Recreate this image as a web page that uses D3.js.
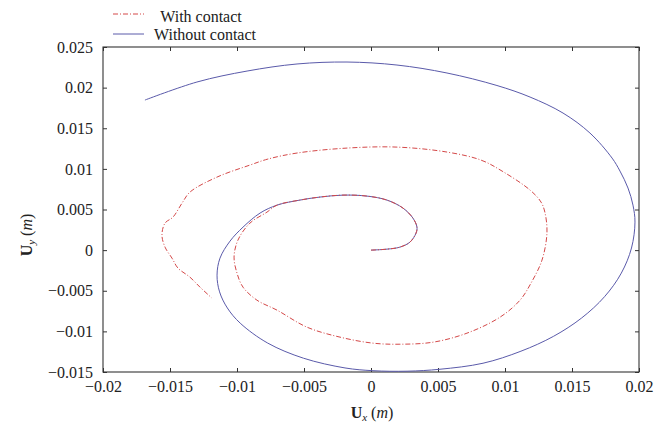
<!DOCTYPE html>
<html><head><meta charset="utf-8">
<script src="https://cdn.jsdelivr.net/npm/d3@7"></script>
<style>
html,body{margin:0;padding:0;background:#fff;}
svg{display:block;}
svg text{font-family:"Liberation Serif","DejaVu Serif",serif !important;fill:#222;}
</style></head>
<body>
<svg id="chart" width="655" height="428"></svg>
<script>
// ---- data ----
const xTicks = [-0.02, -0.015, -0.01, -0.005, 0, 0.005, 0.01, 0.015, 0.02];
const xTickLabels = ["\u22120.02", "\u22120.015", "\u22120.01", "\u22120.005", "0", "0.005", "0.01", "0.015", "0.02"];
const yTicks = [-0.015, -0.01, -0.005, 0, 0.005, 0.01, 0.015, 0.02, 0.025];
const yTickLabels = ["\u22120.015", "\u22120.01", "\u22120.005", "0", "0.005", "0.01", "0.015", "0.02", "0.025"];
const seriesNames = ["With contact", "Without contact"];

// Without contact (blue, solid)
const withoutX = [0, 0.00119, 0.00216, 0.00291, 0.00336, 0.00343, 0.00313, 0.00239, 0.00119, -0.0003, -0.00209, -0.00381, -0.0053, -0.00701, -0.00828, -0.00955, -0.01052, -0.01127, -0.01149, -0.0113, -0.01072, -0.00976, -0.00771, -0.00504, -0.00194, 0.00015, 0.00269, 0.00515, 0.00836, 0.01119, 0.01363, 0.01572, 0.01743, 0.01868, 0.01944, 0.0197, 0.01955, 0.01918, 0.01858, 0.01799, 0.01634, 0.01433, 0.01187, 0.0094, 0.00567, 0.00194, -0.00179, -0.00552, -0.00925, -0.01299, -0.01687];
const withoutY = [0, 0.00012, 0.00037, 0.00099, 0.00209, 0.00283, 0.00394, 0.00517, 0.00616, 0.00665, 0.00677, 0.00653, 0.00616, 0.00554, 0.00456, 0.00283, 0.00111, -0.00099, -0.00308, -0.00514, -0.00712, -0.00899, -0.01144, -0.0133, -0.0145, -0.01484, -0.0149, -0.01466, -0.01392, -0.01244, -0.0106, -0.00835, -0.00573, -0.00283, 0.00026, 0.00345, 0.00554, 0.00764, 0.00973, 0.01133, 0.01441, 0.01687, 0.01884, 0.02026, 0.0218, 0.02278, 0.02315, 0.02291, 0.02204, 0.02069, 0.01847];

// With contact (red, dash-dot)
const withX = [0, 0.00119, 0.00216, 0.00291, 0.00336, 0.00343, 0.00313, 0.00239, 0.00119, -0.0003, -0.00209, -0.00381, -0.0053, -0.00701, -0.00776, -0.00903, -0.00993, -0.01022, -0.01, -0.00955, -0.00851, -0.00701, -0.00478, -0.00231, 0.00015, 0.00216, 0.00463, 0.00716, 0.00963, 0.01112, 0.01194, 0.01276, 0.01313, 0.01299, 0.01269, 0.01187, 0.00978, 0.00821, 0.00567, 0.00194, -0.00179, -0.00552, -0.00769, -0.00903, -0.01149, -0.01351, -0.0141, -0.01478, -0.01537, -0.0156, -0.01537, -0.01485, -0.0144, -0.01351, -0.01276, -0.01187];
const withY = [0, 0.00012, 0.00037, 0.00099, 0.00209, 0.00283, 0.00394, 0.00517, 0.00616, 0.00665, 0.00677, 0.00653, 0.00616, 0.00554, 0.00468, 0.00333, 0.00123, -0.00086, -0.00283, -0.00456, -0.00616, -0.00739, -0.00948, -0.01071, -0.01145, -0.01158, -0.01133, -0.01022, -0.00825, -0.00616, -0.00406, -0.00123, 0.00209, 0.00456, 0.00591, 0.00739, 0.00973, 0.01108, 0.01207, 0.01268, 0.01256, 0.01195, 0.01121, 0.01047, 0.00899, 0.00714, 0.00579, 0.00406, 0.00333, 0.00185, 0.00037, -0.00099, -0.00222, -0.00333, -0.00456, -0.00591];

// ---- layout ----
const FONT = '"Liberation Serif","DejaVu Serif",serif';
const svg = d3.select("#chart");
const L = 103, R = 639, T = 47, B = 372;
const x = d3.scaleLinear().domain([-0.02, 0.02]).range([L, R]);
const y = d3.scaleLinear().domain([-0.015, 0.025]).range([B, T]);

const fmtX = v => xTickLabels[xTicks.indexOf(v)];
const fmtY = v => yTickLabels[yTicks.indexOf(v)];
const axisColor = "#333";

function styleAxis(g) {
  g.attr("font-family", FONT).attr("font-size", 16);
  g.select(".domain").remove();
  g.selectAll(".tick line").attr("stroke", axisColor).attr("stroke-width", 1);
  g.selectAll(".tick text").attr("font-family", FONT).style("font-size", "16px").attr("fill", "#222");
}

svg.append("g").attr("transform", `translate(0,${B})`)
  .call(d3.axisBottom(x).tickValues(xTicks).tickFormat(fmtX).tickSize(-4).tickPadding(9))
  .call(styleAxis);
svg.append("g").attr("transform", `translate(0,${T})`)
  .call(d3.axisTop(x).tickValues(xTicks).tickFormat("").tickSize(-4))
  .call(styleAxis);
svg.append("g").attr("transform", `translate(${L},0)`)
  .call(d3.axisLeft(y).tickValues(yTicks).tickFormat(fmtY).tickSize(-4).tickPadding(10))
  .call(styleAxis);
svg.append("g").attr("transform", `translate(${R},0)`)
  .call(d3.axisRight(y).tickValues(yTicks).tickFormat("").tickSize(-4))
  .call(styleAxis);

svg.append("rect").attr("x", L).attr("y", T).attr("width", R - L).attr("height", B - T)
  .attr("fill", "none").attr("stroke", axisColor).attr("stroke-width", 1.1);

const line = d3.line().x(d => x(d[0])).y(d => y(d[1])).curve(d3.curveCatmullRom.alpha(0.5));

const blueCol = "#5a5aaa", redCol = "#d44848";
svg.append("path").datum(withoutX.map((v, i) => [v, withoutY[i]]))
  .attr("d", line).attr("fill", "none").attr("stroke", blueCol).attr("stroke-width", 1);
svg.append("path").datum(withX.map((v, i) => [v, withY[i]]))
  .attr("d", line).attr("fill", "none").attr("stroke", redCol).attr("stroke-width", 1)
  .attr("stroke-dasharray", "5,2,1,2");

const lg = svg.append("g").attr("font-family", FONT);
lg.append("line").attr("x1", 113).attr("x2", 144).attr("y1", 14).attr("y2", 14)
  .attr("stroke", redCol).attr("stroke-width", 1).attr("stroke-dasharray", "5,2,1,2");
lg.append("text").attr("x", 201).attr("y", 22).attr("text-anchor", "middle")
  .style("font-size", "16px").text(seriesNames[0]);
lg.append("line").attr("x1", 113).attr("x2", 144).attr("y1", 34).attr("y2", 34)
  .attr("stroke", blueCol).attr("stroke-width", 1);
lg.append("text").attr("x", 205).attr("y", 40).attr("text-anchor", "middle")
  .style("font-size", "16px").text(seriesNames[1]);

const xt = svg.append("text").attr("x", 372).attr("y", 418).attr("text-anchor", "middle").style("font-size", "16px");
xt.append("tspan").attr("font-weight", "bold").text("U");
xt.append("tspan").attr("font-style", "italic").attr("dy", 3).style("font-size", "11px").text("x");
xt.append("tspan").attr("dy", -3).text("\u00a0(");
xt.append("tspan").attr("font-style", "italic").text("m");
xt.append("tspan").text(")");

const yt = svg.append("text").attr("transform", "translate(32,235) rotate(-90)").attr("text-anchor", "middle").style("font-size", "16px");
yt.append("tspan").attr("font-weight", "bold").text("U");
yt.append("tspan").attr("font-style", "italic").attr("dy", 3).style("font-size", "11px").text("y");
yt.append("tspan").attr("dy", -3).text("\u00a0(");
yt.append("tspan").attr("font-style", "italic").text("m");
yt.append("tspan").text(")");
</script>
</body></html>
